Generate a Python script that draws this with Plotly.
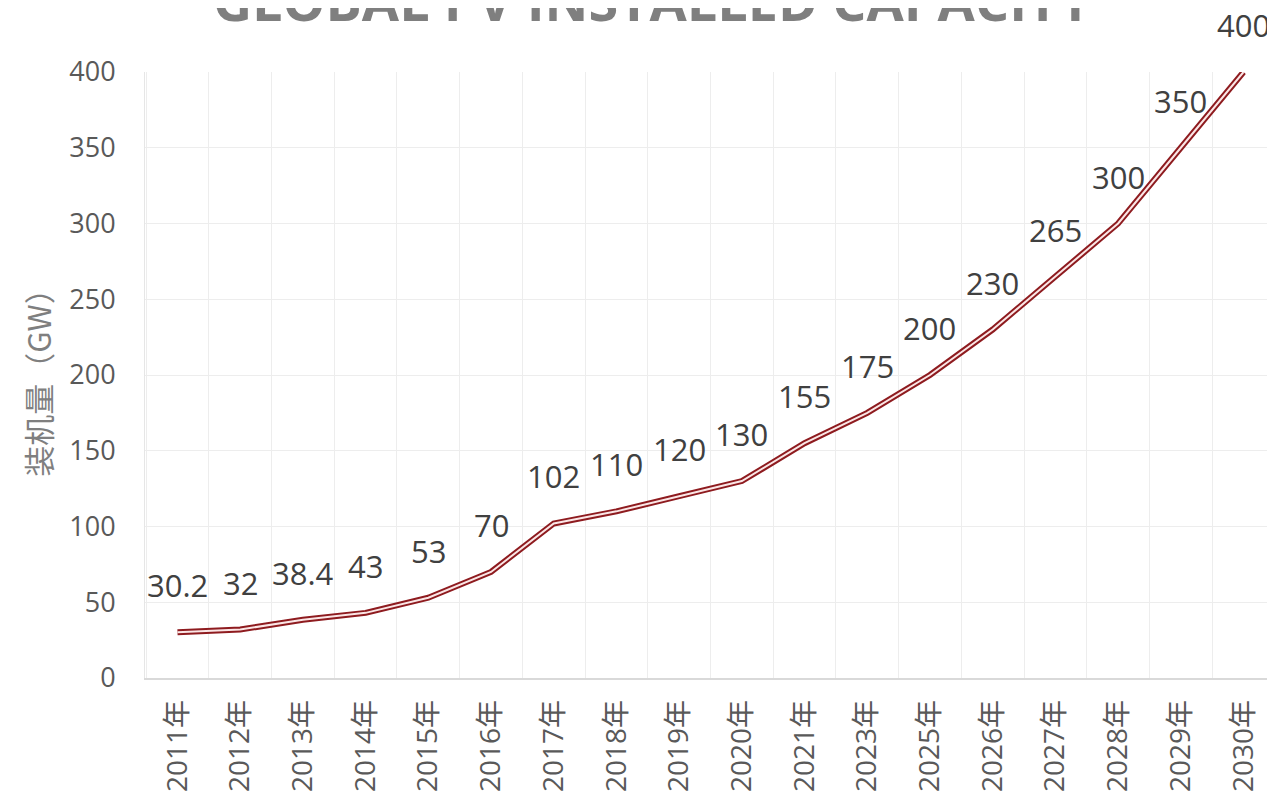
import plotly.graph_objects as go

years = ["2011年", "2012年", "2013年", "2014年", "2015年", "2016年", "2017年", "2018年", "2019年",
         "2020年", "2021年", "2023年", "2025年", "2026年", "2027年", "2028年", "2029年", "2030年"]
capacity = [30.2, 32, 38.4, 43, 53, 70, 102, 110, 120, 130, 155, 175, 200, 230, 265, 300, 350, 400]
labels = ["30.2", "32", "38.4", "43", "53", "70", "102", "110", "120",
          "130", "155", "175", "200", "230", "265", "300", "350", "400"]

fig = go.Figure()

# dark red outer stroke, pale inner stroke -> double line look
fig.add_trace(go.Scatter(x=years, y=capacity, mode="lines",
                         line=dict(color="#8e1b1f", width=6), cliponaxis=False,
                         hoverinfo="skip", showlegend=False))
fig.add_trace(go.Scatter(x=years, y=capacity, mode="lines",
                         line=dict(color="#fbe6e6", width=2), cliponaxis=False,
                         showlegend=False))

for x, y, t in zip(years, capacity, labels):
    fig.add_annotation(x=x, y=y, text=t, showarrow=False, yshift=47,
                       font=dict(size=31, color="#404040", family="Open Sans"))

# title sits partly above the page, as in the source image
fig.add_annotation(xref="paper", yref="paper", x=0.45, y=1.119, xanchor="center", yanchor="middle",
                   text="<b>GLOBAL PV INSTALLED CAPACITY</b>", showarrow=False,
                   font=dict(size=54, color="#7f7f7f", family="Open Sans"))

fig.update_layout(
    width=1267, height=787,
    margin=dict(l=137, r=3, t=64, b=117),
    paper_bgcolor="white", plot_bgcolor="white",
    font=dict(family="Open Sans, Noto Sans CJK SC", color="#595959"),
    xaxis=dict(
        type="category", tickson="boundaries", tickangle=-90, automargin=False,
        showgrid=True, gridcolor="#ededed", gridwidth=1,
        showline=True, linecolor="#d9d9d9", linewidth=1.5,
        ticks="", ticklabelstandoff=9,
        tickfont=dict(size=28, color="#595959", family="Open Sans, Noto Sans CJK SC"),
    ),
    yaxis=dict(
        range=[0, 400], dtick=50, automargin=False,
        showgrid=True, gridcolor="#ededed", gridwidth=1,
        showline=True, linecolor="#e6e6e6", zeroline=False,
        ticks="", ticklabelstandoff=23,
        tickfont=dict(size=27, color="#595959", family="Open Sans"),
        title=dict(text="装机量（GW）", standoff=8,
                   font=dict(size=31, color="#7f7f7f", family="Noto Sans CJK SC")),
    ),
)

fig.write_html("out.html")
